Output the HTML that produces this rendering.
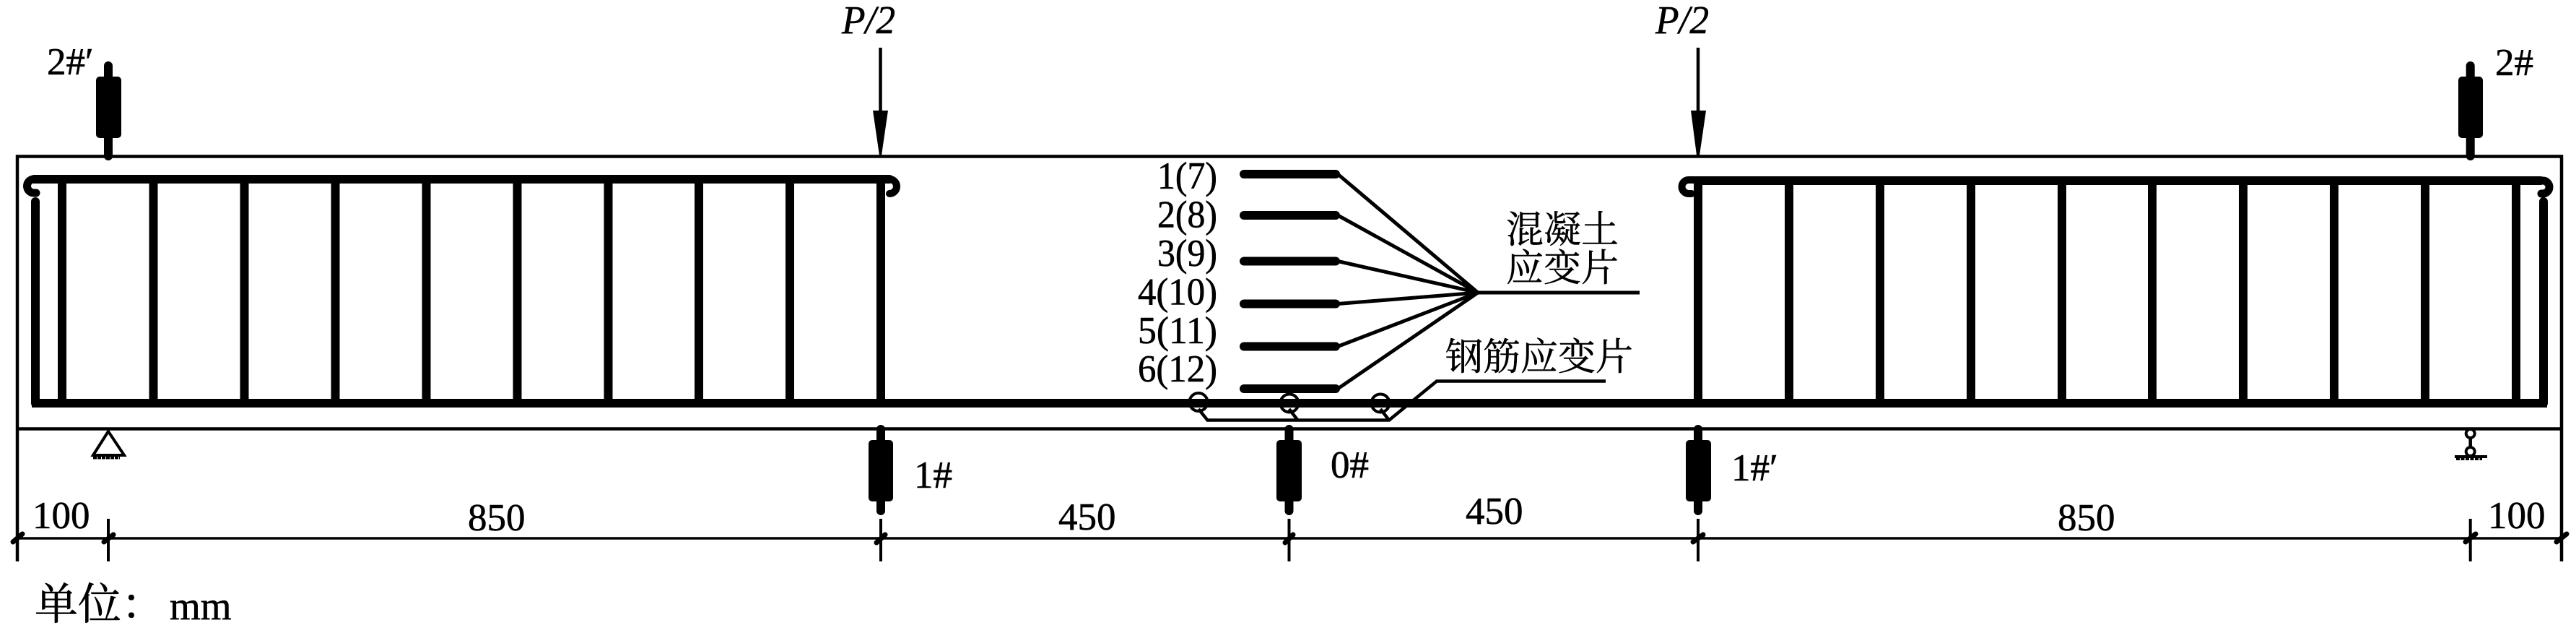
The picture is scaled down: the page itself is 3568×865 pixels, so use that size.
<!DOCTYPE html>
<html>
<head>
<meta charset="utf-8">
<style>
html,body{margin:0;padding:0;background:#fff;}
svg{display:block;}
text{font-family:"Liberation Serif","Noto Serif CJK SC",serif;fill:#000;font-size:53px;stroke:#000;stroke-width:.6px;}
.cjk{font-size:52px;stroke-width:.5px;}
</style>
</head>
<body>
<svg width="3568" height="865" viewBox="0 0 3568 865" xmlns="http://www.w3.org/2000/svg">
<rect width="3568" height="865" fill="#fff"/>

<!-- beam outline -->
<g stroke="#000" stroke-width="4.500" fill="none">
  <path d="M24 777 V216.500 H3548 V777"/>
  <path d="M24 593.500 H3548"/>
</g>

<!-- rebar -->
<g stroke="#000" stroke-width="12" fill="none" stroke-linecap="round">
  <path d="M44 558 H3528" stroke-linecap="butt"/>
  <path d="M49 279 V558"/>
  <path d="M3523 279 V558"/>
  <path d="M55 248 H47 A9.500 9.500 0 0 0 47 267 H50" stroke-width="11"/>
  <path d="M47 248 H1232"/>
  <path d="M1232 248 A10 10 0 0 1 1232 268" stroke-width="10"/>
  <path d="M2352 250 H3519"/>
  <path d="M2350 249 H2339 A9.500 9.500 0 0 0 2339 268 H2343" stroke-width="10"/>
  <path d="M3512 250 H3522 A9 9 0 0 1 3522 268 H3520" stroke-width="11"/>
</g>
<!-- stirrups -->
<g stroke="#000" stroke-width="12" fill="none">
  <path d="M86 248V558M212.500 248V558M338.500 248V558M464.500 248V558M590.500 248V558M716.500 248V558M842.500 248V558M968 248V558M1094 248V558M1220 248V558"/>
  <path d="M2352 250V558M2478 250V558M2604 250V558M2730 250V558M2856 250V558M2981 250V558M3107 250V558M3233 250V558M3359 250V558M3485 250V558"/>
</g>

<!-- displacement gauges -->
<g fill="#000" stroke="#000">
  <g>
    <line x1="150" y1="91" x2="150" y2="216" stroke-width="12" stroke-linecap="round"/>
    <rect x="133" y="106" width="35" height="85" rx="5" stroke="none"/>
  </g>
  <g>
    <line x1="3421.700" y1="91" x2="3421.700" y2="216" stroke-width="12" stroke-linecap="round"/>
    <rect x="3405" y="106" width="34" height="85" rx="5" stroke="none"/>
  </g>
  <g>
    <line x1="1220" y1="594" x2="1220" y2="707" stroke-width="12" stroke-linecap="round"/>
    <rect x="1203" y="609" width="34" height="85" rx="5" stroke="none"/>
  </g>
  <g>
    <line x1="1785.500" y1="594" x2="1785.500" y2="707" stroke-width="12" stroke-linecap="round"/>
    <rect x="1768" y="609" width="35" height="85" rx="5" stroke="none"/>
  </g>
  <g>
    <line x1="2352" y1="594" x2="2352" y2="707" stroke-width="12" stroke-linecap="round"/>
    <rect x="2335" y="609" width="35" height="85" rx="5" stroke="none"/>
  </g>
</g>

<!-- load arrows -->
<g stroke="#000" stroke-width="4.500" fill="none">
  <line x1="1219.500" y1="66" x2="1219.500" y2="160"/>
  <line x1="2352" y1="66" x2="2352" y2="160"/>
</g>
<path d="M1209 153 H1230 L1221 215 H1218 Z" fill="#000"/>
<path d="M2342 153 H2363 L2354 215 H2350 Z" fill="#000"/>

<!-- supports -->
<path d="M150 597 L129 630 H172 Z" fill="#fff" stroke="#000" stroke-width="4" stroke-linejoin="miter"/>
<line x1="129" y1="633.500" x2="166" y2="633.500" stroke="#000" stroke-width="4" stroke-dasharray="5 1"/>
<g stroke="#000" fill="#fff">
  <line x1="3421.700" y1="600" x2="3421.700" y2="625" stroke-width="4.500"/>
  <circle cx="3421.700" cy="600" r="6" stroke-width="4"/>
  <circle cx="3421.700" cy="625" r="6" stroke-width="4"/>
  <line x1="3400" y1="632" x2="3445" y2="632" stroke-width="4"/>
  <line x1="3402" y1="635" x2="3438" y2="635" stroke-width="4" stroke-dasharray="5 1.500"/>
</g>

<!-- dimension line -->
<g stroke="#000" fill="none">
  <line x1="24" y1="745" x2="3548" y2="745" stroke-width="3.500"/>
  <path d="M150 718V777M1220 718V777M1785.500 718V777M2352 718V777M3421.700 718V777" stroke-width="4"/>
  <g stroke-width="7" stroke-linecap="round">
    <line x1="18" y1="750" x2="31" y2="739"/>
    <line x1="144" y1="750" x2="157" y2="740"/>
    <line x1="1214" y1="751" x2="1226" y2="740"/>
    <line x1="1780" y1="751" x2="1791" y2="740"/>
    <line x1="2345" y1="750" x2="2359" y2="740"/>
    <line x1="3415" y1="750" x2="3429" y2="739"/>
    <line x1="3541" y1="750" x2="3555" y2="739"/>
  </g>
</g>

<!-- concrete strain gauges -->
<g stroke="#000" stroke-width="12" stroke-linecap="round" fill="none">
  <path d="M1723 241H1850M1723 298H1850M1723 361.500H1850M1723 420.500H1850M1723 479.500H1850M1723 538H1850"/>
</g>
<g stroke="#000" stroke-width="5" fill="none">
  <path d="M1853 241L2047 405M1853 298L2047 405M1853 361.500L2047 405M1853 420.500L2047 405M1853 479.500L2047 405M1853 538L2047 405"/>
  <path d="M2045 405H2271"/>
</g>

<!-- steel strain gauges -->
<g stroke="#000" stroke-width="4" fill="none">
  <circle cx="1660" cy="556.500" r="12.500"/>
  <circle cx="1786" cy="558" r="12.500"/>
  <circle cx="1912" cy="558" r="12.500"/>
</g>
<g stroke="#000" stroke-width="4.500" fill="none">
  <path d="M1660 566L1672.500 581.500H1924L1990 527.500H2224"/>
  <path d="M1785.500 566L1797.500 581.500"/>
  <path d="M1912 566L1924 581.500"/>
</g>

<!-- labels -->
<text x="65" y="103">2#′</text>
<text x="3456" y="104">2#</text>
<text x="1166" y="46" font-style="italic" textLength="74" lengthAdjust="spacingAndGlyphs" style="font-size:55px">P/2</text>
<text x="2293" y="46" font-style="italic" textLength="74" lengthAdjust="spacingAndGlyphs" style="font-size:55px">P/2</text>
<text x="1266" y="675">1#</text>
<text x="1843" y="661">0#</text>
<text x="2398" y="665">1#′</text>

<text x="45" y="731">100</text>
<text x="648" y="734">850</text>
<text x="1466" y="733">450</text>
<text x="2030" y="725">450</text>
<text x="2850" y="734">850</text>
<text x="3446" y="731">100</text>

<text x="1603" y="261" textLength="83" lengthAdjust="spacingAndGlyphs">1(7)</text>
<text x="1603" y="314.500" textLength="83" lengthAdjust="spacingAndGlyphs">2(8)</text>
<text x="1603" y="368" textLength="83" lengthAdjust="spacingAndGlyphs">3(9)</text>
<text x="1576" y="421.500" textLength="110" lengthAdjust="spacingAndGlyphs">4(10)</text>
<text x="1576" y="475" textLength="110" lengthAdjust="spacingAndGlyphs">5(11)</text>
<text x="1576" y="528" textLength="110" lengthAdjust="spacingAndGlyphs">6(12)</text>

<text class="cjk" x="2086" y="336">混凝土</text>
<text class="cjk" x="2086" y="389">应变片</text>
<text class="cjk" x="2002" y="512">钢筋应变片</text>

<text x="48" y="857" style="font-size:60px">单位：</text>
<text x="235" y="857" style="font-size:55px">mm</text>
</svg>
</body>
</html>
